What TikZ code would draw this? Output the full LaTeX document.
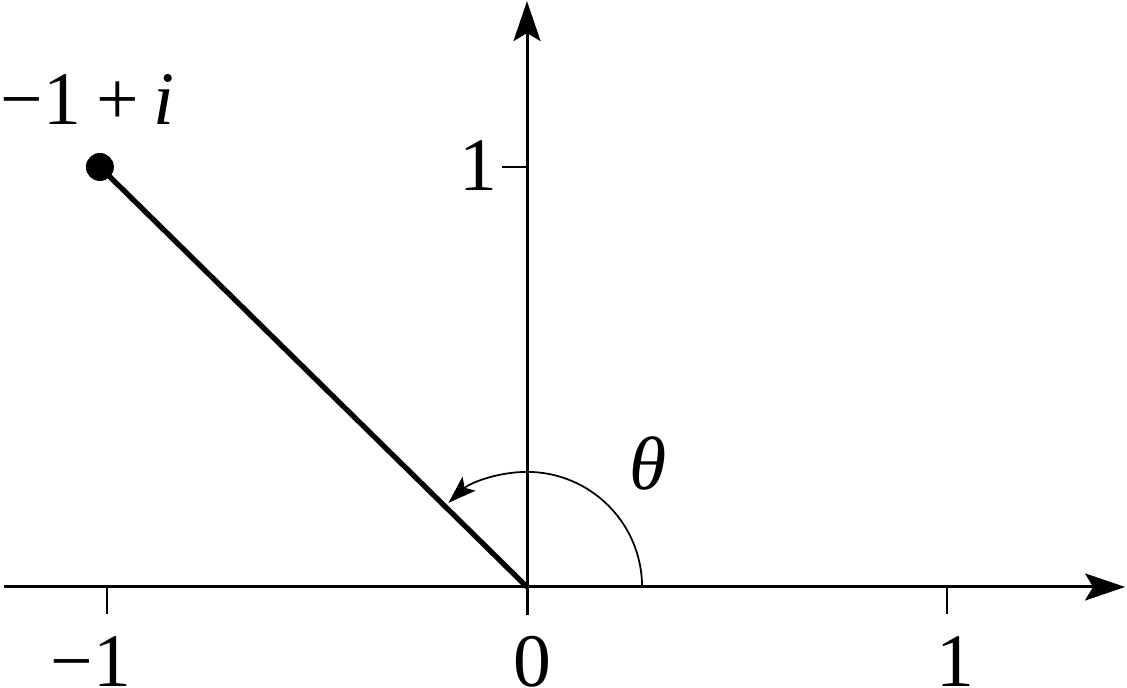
\documentclass[tikz,border=0pt]{standalone}
\usepackage{fontspec}
\setmainfont{Liberation Serif}
\usepackage{tikz}
\usetikzlibrary{positioning, arrows.meta, calc}

\begin{document}
\begin{tikzpicture}[x=4.2cm, y=4.2cm,
    axisLine/.style={line width=0.85pt, -{Stealth[length=4mm, width=2.7mm, inset=0.8mm]}},
    tickMark/.style={line width=0.6pt},
    radiusLine/.style={line width=1.5pt},
    angleArc/.style={line width=0.5pt, -{Stealth[length=2.8mm, width=1.9mm, inset=0.6mm]}},
    pointDot/.style={circle, fill=black, inner sep=0pt, minimum size=2.8mm},
    label/.style={inner sep=0pt, font=\fontsize{21.5}{24}\selectfont}]

  \useasboundingbox (-1.2548,-0.2405) rectangle (1.4286,1.3976);

  % axes
  \coordinate (O) at (0,0);
  \coordinate (xl) at (-1.245,0);
  \coordinate (xr) at (1.424,0);
  \coordinate (yb) at (0,-0.067);
  \coordinate (yt) at (0,1.395);
  \draw[axisLine] (xl) -- (xr);
  \draw[axisLine] (yb) -- (yt);

  % ticks
  \coordinate (tm) at (-1,0);
  \coordinate (tp) at (1,0);
  \coordinate (ty) at (0,1);
  \draw[tickMark] (tm) -- ++(0,-0.064);
  \draw[tickMark] (tp) -- ++(0,-0.064);
  \draw[tickMark] (ty) -- ++(-0.06,0);

  % tick labels
  \node[label, anchor=base] (lm) at (-1.038,-0.237) {−1};
  \node[label, anchor=base] (l0) at (0.012,-0.237) {0};
  \node[label, anchor=base] (lp) at (1.021,-0.237) {1};
  \node[label, anchor=base east] (ly) at (-0.069,0.945) {1};

  % the point and its radius
  \node[pointDot] (P) at (-1.017,1) {};
  \draw[radiusLine] (P.center) -- (O);
  \node[label, anchor=base west] (Plabel) at (-1.2548,1.1) {−1\hspace{0.2em}+\hspace{0.2em}\textit{i}};

  % angle
  \coordinate (A) at (0.274,0);
  \draw[angleArc] (A) arc[start angle=0, end angle=133, radius=0.274];
  \node[label, anchor=base] (theta) at (0.288,0.233) {\textit{θ}};

\end{tikzpicture}
\end{document}
